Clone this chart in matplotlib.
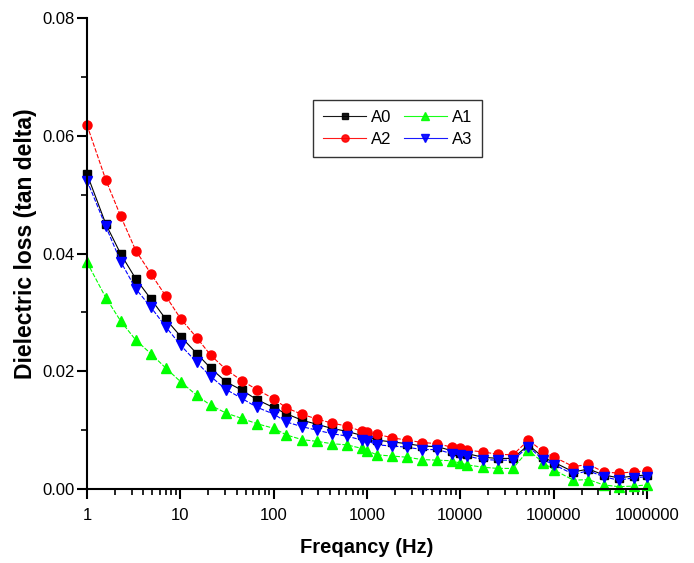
import numpy as np
import matplotlib.pyplot as plt
from matplotlib.ticker import FixedLocator, MultipleLocator, LogLocator, NullFormatter

plt.rcParams['font.family'] = ['Liberation Sans', 'DejaVu Sans']

# frequency points (Hz)
freq = [1, 1.59, 2.30, 3.33, 4.82, 7.03, 10.1, 15.0, 21.2, 30.9, 45.5, 65.9, 101,
        136, 200, 290, 419, 607, 880, 1010, 1274, 1872, 2671, 3925, 5683, 8108,
        9950, 11920, 17430, 25230, 36530, 53700, 76600, 102000, 163000, 236000,
        342000, 495000, 717000, 1000000]

a0 = [0.0535, 0.0450, 0.0399, 0.0357, 0.0323, 0.0288, 0.0259, 0.0230, 0.0205, 0.0182,
      0.0168, 0.0152, 0.0138, 0.0128, 0.0117, 0.0110, 0.0103, 0.0098, 0.0091, 0.0089,
      0.0083, 0.0080, 0.0077, 0.0073, 0.0072, 0.0065, 0.0062, 0.0060, 0.0054, 0.0052,
      0.0052, 0.0075, 0.0054, 0.0045, 0.0029, 0.0034, 0.0024, 0.0019, 0.0022, 0.0024]
a1 = [0.0385, 0.0325, 0.0285, 0.0253, 0.0230, 0.0205, 0.0182, 0.0159, 0.0142, 0.0129,
      0.0120, 0.0111, 0.0103, 0.0092, 0.0084, 0.0081, 0.0077, 0.0075, 0.0069, 0.0065,
      0.0058, 0.0056, 0.0054, 0.0050, 0.0049, 0.0048, 0.0044, 0.0041, 0.0037, 0.0035,
      0.0035, 0.0066, 0.0045, 0.0032, 0.0015, 0.0016, 0.0007, 0.0004, 0.0005, 0.0007]
a2 = [0.0618, 0.0525, 0.0463, 0.0405, 0.0366, 0.0327, 0.0289, 0.0257, 0.0227, 0.0203,
      0.0184, 0.0169, 0.0153, 0.0138, 0.0127, 0.0119, 0.0112, 0.0107, 0.0098, 0.0097,
      0.0093, 0.0087, 0.0083, 0.0079, 0.0077, 0.0071, 0.0069, 0.0066, 0.0063, 0.0059,
      0.0058, 0.0083, 0.0064, 0.0054, 0.0038, 0.0042, 0.0029, 0.0027, 0.0029, 0.0031]
a3 = [0.0524, 0.0446, 0.0386, 0.0340, 0.0309, 0.0275, 0.0244, 0.0215, 0.0191, 0.0169,
      0.0154, 0.0139, 0.0127, 0.0114, 0.0106, 0.0100, 0.0094, 0.0090, 0.0083, 0.0082,
      0.0075, 0.0073, 0.0071, 0.0067, 0.0067, 0.0060, 0.0058, 0.0056, 0.0050, 0.0049,
      0.0049, 0.0072, 0.0050, 0.0041, 0.0025, 0.0031, 0.0021, 0.0015, 0.0019, 0.0021]

x_ticks = [1, 10, 100, 1000, 10000, 100000, 1000000]
x_labels = ['1', '10', '100', '1000', '10000', '100000', '1000000']
y_ticks = [0.00, 0.02, 0.04, 0.06, 0.08]

fig = plt.figure(figsize=(6.94, 5.63), dpi=100)
ax = fig.add_axes([0.1254, 0.1314, 0.8069, 0.8366])

dash = (0, (4, 1.5))
l0, = ax.plot(freq, a0, color='black', lw=0.8, marker='s', ms=5.5, label='A0', clip_on=False)
l1, = ax.plot(freq, a1, color='#00ff00', lw=0.8, ls=dash, marker='^', ms=7, label='A1', clip_on=False)
l2, = ax.plot(freq, a2, color='red', lw=0.8, ls=dash, marker='o', ms=6.5, label='A2', clip_on=False)
l3, = ax.plot(freq, a3, color='blue', lw=0.8, ls=dash, marker='v', ms=7, label='A3', clip_on=False)

ax.set_xscale('log')
ax.set_xlim(1, 1e6)
ax.set_ylim(0, 0.08)
ax.xaxis.set_major_locator(FixedLocator(x_ticks))
ax.set_xticklabels(x_labels)
ax.xaxis.set_minor_locator(LogLocator(base=10, subs=np.arange(2, 10), numticks=20))
ax.xaxis.set_minor_formatter(NullFormatter())
ax.set_yticks(y_ticks)
ax.set_yticklabels([f'{v:.2f}' for v in y_ticks])
ax.yaxis.set_minor_locator(MultipleLocator(0.01))

for s in ['top', 'right']:
    ax.spines[s].set_visible(False)
for s in ['left', 'bottom']:
    ax.spines[s].set_linewidth(1.5)

ax.tick_params(which='major', direction='out', length=7, width=1.5, labelsize=12)
ax.tick_params(which='minor', direction='out', length=4, width=1.2)
ax.tick_params(axis='x', which='major', pad=7)
ax.tick_params(axis='y', which='major', pad=2)

ax.set_xlabel('Freqancy (Hz)', fontsize=14.5, fontweight='bold')
ax.set_ylabel('Dielectric loss (tan delta)', fontsize=16.5, fontweight='bold')
ax.xaxis.set_label_coords(0.5, -0.104)
ax.yaxis.set_label_coords(-0.09, 0.52)

leg = ax.legend([l0, l2, l1, l3], ['A0', 'A2', 'A1', 'A3'], ncol=2,
                loc='upper left', bbox_to_anchor=(0.4036, 0.826), fontsize=12,
                fancybox=False, edgecolor='#333333', framealpha=1, borderaxespad=0,
                handlelength=2.6, columnspacing=0.7, handletextpad=0.3,
                borderpad=0.6, labelspacing=0.4, markerscale=0.8)
leg.get_frame().set_linewidth(1.0)
for h in leg.get_lines():
    h.set_linestyle('-')
    h.set_alpha(0.9)

fig.savefig('out.png', dpi=100)
